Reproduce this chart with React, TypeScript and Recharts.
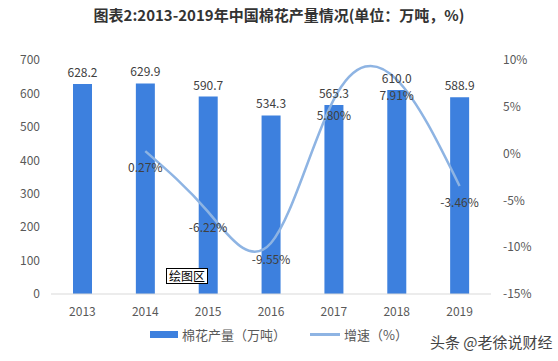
import React from "react";
import { ComposedChart, Bar, Line, XAxis, YAxis, LabelList, Legend } from "recharts";

const years = ["2013", "2014", "2015", "2016", "2017", "2018", "2019"];
const output = [628.2, 629.9, 590.7, 534.3, 565.3, 610.0, 588.9];
const growth: (number | null)[] = [null, 0.27, -6.22, -9.55, 5.8, 7.91, -3.46];
const leftTicks = [0, 100, 200, 300, 400, 500, 600, 700];
const rightTicks = [-15, -10, -5, 0, 5, 10];

const title = "图表2:2013-2019年中国棉花产量情况(单位：万吨，%)";
const barName = "棉花产量（万吨）";
const lineName = "增速（%）";

const data = years.map((y, i) => ({ year: y, output: output[i], growth: growth[i] }));

const FONT = '"Noto Sans CJK SC", "Open Sans", sans-serif';
const BAR_COLOR = "#3D80DE";
const LINE_COLOR = "#8EB4E3";

const renderLegend = () => (
  <div style={{ display: "flex", alignItems: "center", fontFamily: FONT, fontSize: 13, color: "#595959", height: 20 }}>
    <span style={{ display: "inline-block", width: 28, height: 7, background: BAR_COLOR, marginRight: 4 }} />
    <span style={{ marginRight: 24 }}>{barName}</span>
    <span style={{ display: "inline-block", width: 30, height: 3, background: LINE_COLOR, marginRight: 4 }} />
    <span>{lineName}</span>
  </div>
);

export default function App() {
  return (
    <div style={{ position: "absolute", left: 0, top: 0, width: 558, height: 361, background: "#fff", fontFamily: FONT }}>
      <div style={{ position: "absolute", left: 0, top: 5, width: 558, textAlign: "center", fontSize: 15, fontWeight: "bold", color: "#333", fontFamily: FONT, lineHeight: "20px" }}>
        {title}
      </div>
      <ComposedChart width={558} height={361} data={data} margin={{ top: 60, right: 0, left: 0, bottom: 17 }}>
        <XAxis
          dataKey="year"
          axisLine={{ stroke: "#D9D9D9" }}
          tickLine={false}
          tick={{ fontSize: 12, fill: "#595959", fontFamily: FONT }}
          tickMargin={7}
          height={30}
        />
        <YAxis
          yAxisId="left"
          domain={[0, 700]}
          ticks={leftTicks}
          axisLine={false}
          tickLine={false}
          width={51}
          tickMargin={5}
          tick={{ fontSize: 12, fill: "#595959", fontFamily: FONT }}
        />
        <YAxis
          yAxisId="right"
          orientation="right"
          domain={[-15, 10]}
          ticks={rightTicks}
          axisLine={false}
          tickLine={false}
          width={67}
          tickMargin={6}
          tickFormatter={(v: number) => `${v}%`}
          tick={{ fontSize: 12, fill: "#595959", fontFamily: FONT, textAnchor: "start" }}
        />
        <Legend content={renderLegend} verticalAlign="bottom" align="center" wrapperStyle={{ left: 150, width: 300 }} />
        <Bar yAxisId="left" dataKey="output" name={barName} fill={BAR_COLOR} barSize={19} isAnimationActive={false}>
          <LabelList dataKey="output" position="top" offset={7} formatter={(v: number) => v.toFixed(1)} style={{ fontSize: 12, fill: "#404040", fontFamily: FONT }} />
        </Bar>
        <Line
          yAxisId="right"
          type="natural"
          dataKey="growth"
          name={lineName}
          stroke={LINE_COLOR}
          strokeWidth={2.5}
          dot={false}
          activeDot={false}
          isAnimationActive={false}
        >
          <LabelList dataKey="growth" position="bottom" offset={12} formatter={(v: number | null) => (v == null ? "" : `${v.toFixed(2)}%`)} style={{ fontSize: 12, fill: "#404040", fontFamily: FONT }} />
        </Line>
      </ComposedChart>
      <div style={{ position: "absolute", left: 166, top: 268, border: "1px solid #000", background: "#fff", fontSize: 12, lineHeight: "14px", padding: "0 2px", color: "#000", fontFamily: FONT }}>
        绘图区
      </div>
      <div style={{ position: "absolute", left: 430, top: 333, fontSize: 15, color: "#444", fontFamily: FONT, lineHeight: "18px" }}>
        头条 @老徐说财经
      </div>
    </div>
  );
}
